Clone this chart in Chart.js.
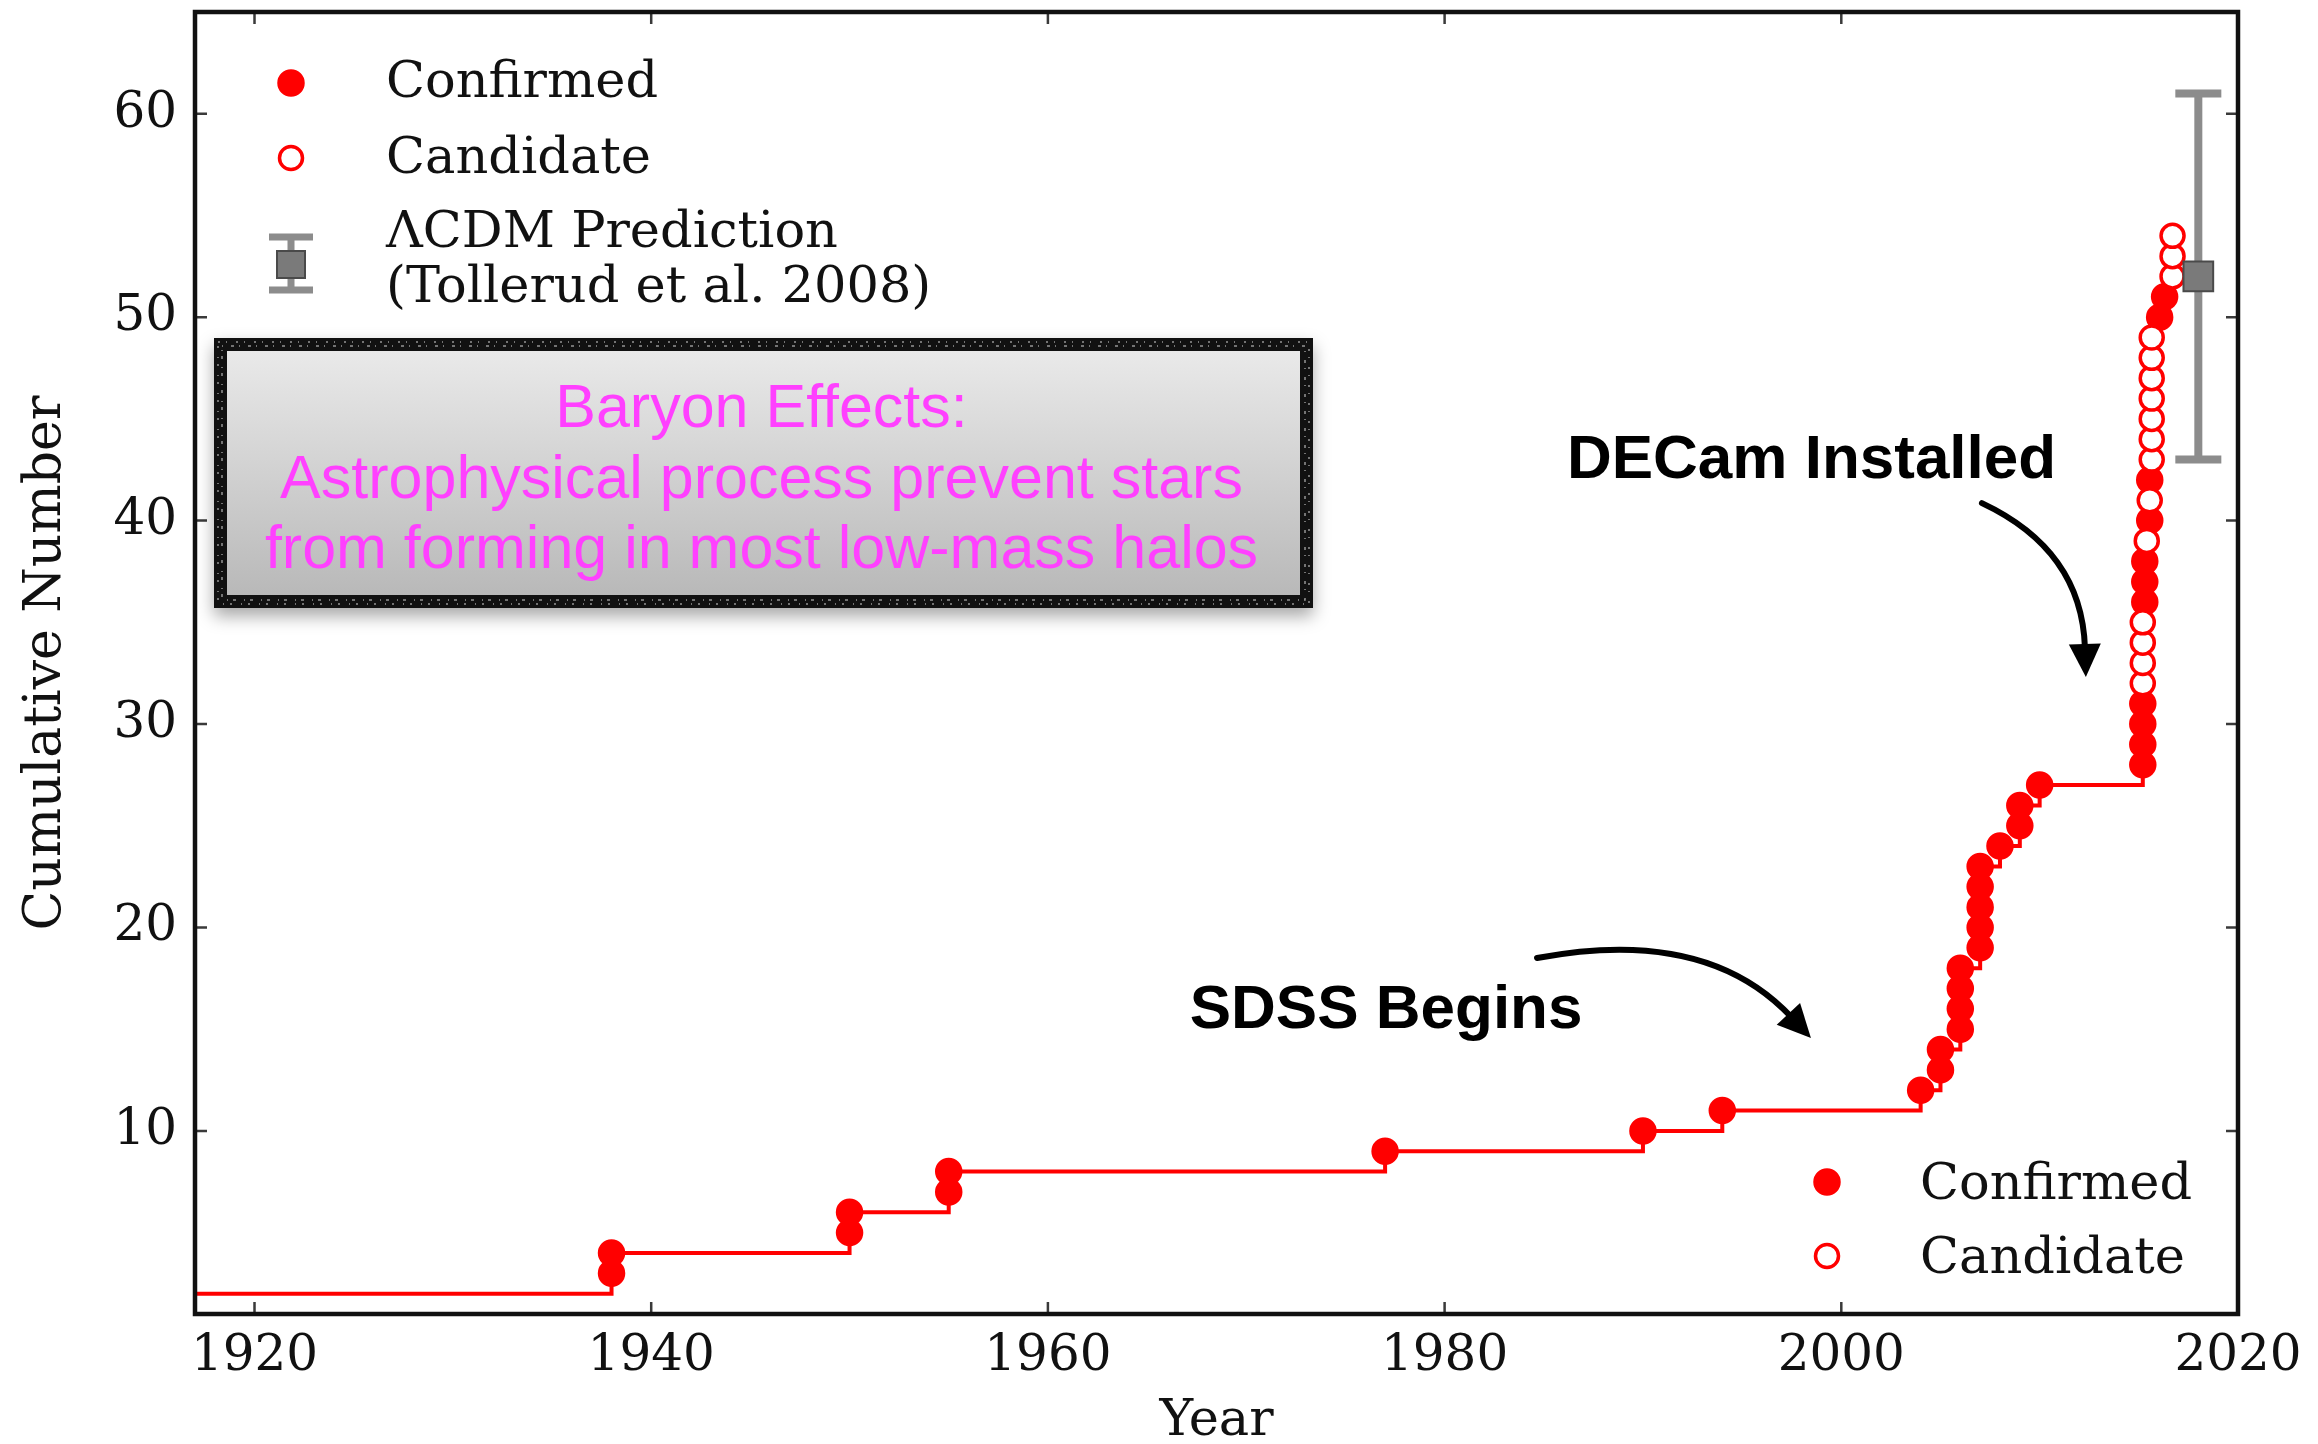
<!DOCTYPE html>
<html>
<head>
<meta charset="utf-8">
<script src="https://cdn.jsdelivr.net/npm/chart.js@4.4.1/dist/chart.umd.min.js"></script>
<style>
  html, body { margin: 0; padding: 0; background: #ffffff; }
  canvas { display: block; }
</style>
</head>
<body>
<canvas id="satellites" width="2318" height="1444"></canvas>
<script>
// Cumulative number of known Milky Way satellite galaxies versus discovery year.
const countBeforeFirstDiscovery = 2;

const discoveryYears = [
  1938, 1938, 1950, 1950, 1955, 1955, 1977, 1990, 1994,
  2004, 2005, 2005, 2006, 2006, 2006, 2006,
  2007, 2007, 2007, 2007, 2007, 2008, 2009, 2009, 2010,
  2015.2, 2015.2, 2015.2, 2015.2, 2015.2, 2015.2, 2015.2, 2015.2,
  2015.3, 2015.3, 2015.3, 2015.4, 2015.55, 2015.55, 2015.55,
  2015.65, 2015.65, 2015.65, 2015.65, 2015.65, 2015.65, 2015.65,
  2016.05, 2016.3, 2016.7, 2016.7, 2016.7
];

const cumulativeCounts = [
  3, 4, 5, 6, 7, 8, 9, 10, 11,
  12, 13, 14, 15, 16, 17, 18,
  19, 20, 21, 22, 23, 24, 25, 26, 27,
  28, 29, 30, 31, 32, 33, 34, 35,
  36, 37, 38, 39, 40, 41, 42,
  43, 44, 45, 46, 47, 48, 49,
  50, 51, 52, 53, 54
];

// true = confirmed satellite, false = candidate
const isConfirmed = [
  true, true, true, true, true, true, true, true, true,
  true, true, true, true, true, true, true,
  true, true, true, true, true, true, true, true, true,
  true, true, true, true, false, false, false, false,
  true, true, true, false, true, false, true,
  false, false, false, false, false, false, false,
  true, true, false, false, false
];

// ΛCDM prediction (Tollerud et al. 2008)
const predictionYear = [2018];
const predictionValue = [52];
const predictionLow = [43];
const predictionHigh = [61];

const xTickValues = [1920, 1940, 1960, 1980, 2000, 2020];
const yTickValues = [10, 20, 30, 40, 50, 60];
const xRange = [1917, 2020];
const yRange = [1, 65];

// Annotation anchors in data coordinates
const sdssLabel = { text: 'SDSS Begins', year: 1977.05, value: 15.06 };
const sdssArrow = [[1984.66, 18.5], [1993.18, 20.07], [1998.47, 14.57]];
const decamLabel = { text: 'DECam Installed', year: 1998.5, value: 42.1 };
const decamArrow = [[2007.09, 40.86], [2012.13, 38.55], [2012.33, 32.31]];
const baryonLines = [
  'Baryon Effects:',
  'Astrophysical process prevent stars',
  'from forming in most low-mass halos'
];

const RED = '#ff0000';
const SERIF = "'DejaVu Serif', serif";
const SANS = "'Liberation Sans', Arial, sans-serif";

const confirmedPoints = [];
const candidatePoints = [];
discoveryYears.forEach((yr, i) => {
  const p = { x: yr, y: cumulativeCounts[i] };
  (isConfirmed[i] ? confirmedPoints : candidatePoints).push(p);
});
const stepPoints = [{ x: xRange[0], y: countBeforeFirstDiscovery }]
  .concat(discoveryYears.map((yr, i) => ({ x: yr, y: cumulativeCounts[i] })));
const predictionPoints = predictionYear.map((yr, i) => ({ x: yr, y: predictionValue[i] }));

function drawDot(ctx, x, y, filled) {
  ctx.beginPath();
  ctx.arc(x, y, filled ? 12.5 : 11.5, 0, Math.PI * 2);
  ctx.fillStyle = filled ? RED : '#ffffff';
  ctx.fill();
  ctx.lineWidth = filled ? 2.5 : 3.5;
  ctx.strokeStyle = RED;
  ctx.stroke();
}

function drawArrow(ctx, xs, ys, pts) {
  const p0 = [xs.getPixelForValue(pts[0][0]), ys.getPixelForValue(pts[0][1])];
  const p1 = [xs.getPixelForValue(pts[1][0]), ys.getPixelForValue(pts[1][1])];
  const p2 = [xs.getPixelForValue(pts[2][0]), ys.getPixelForValue(pts[2][1])];
  let dx = p2[0] - p1[0], dy = p2[1] - p1[1];
  const len = Math.hypot(dx, dy); dx /= len; dy /= len;
  const headLen = 33, headHalf = 16;
  const base = [p2[0] - dx * headLen, p2[1] - dy * headLen];
  ctx.save();
  ctx.strokeStyle = '#000'; ctx.fillStyle = '#000';
  ctx.lineWidth = 6; ctx.lineCap = 'round';
  ctx.beginPath();
  ctx.moveTo(p0[0], p0[1]);
  ctx.quadraticCurveTo(p1[0], p1[1], base[0] + dx * 4, base[1] + dy * 4);
  ctx.stroke();
  ctx.beginPath();
  ctx.moveTo(p2[0], p2[1]);
  ctx.lineTo(base[0] - dy * headHalf, base[1] + dx * headHalf);
  ctx.lineTo(base[0] + dy * headHalf, base[1] - dx * headHalf);
  ctx.closePath();
  ctx.fill();
  ctx.restore();
}

const decorations = {
  id: 'decorations',
  beforeDatasetsDraw(chart) {
    // error bar of the prediction, under its square marker
    const { ctx, scales: { x, y } } = chart;
    ctx.save();
    ctx.strokeStyle = '#8c8c8c';
    ctx.lineWidth = 8;
    predictionYear.forEach((yr, i) => {
      const px = x.getPixelForValue(yr);
      const lo = y.getPixelForValue(predictionLow[i]);
      const hi = y.getPixelForValue(predictionHigh[i]);
      ctx.beginPath();
      ctx.moveTo(px, lo); ctx.lineTo(px, hi);
      ctx.moveTo(px - 23, lo); ctx.lineTo(px + 23, lo);
      ctx.moveTo(px - 23, hi); ctx.lineTo(px + 23, hi);
      ctx.stroke();
    });
    ctx.restore();
  },
  afterDatasetsDraw(chart) {
    const { ctx, chartArea: a, scales: { x, y } } = chart;
    ctx.save();
    // inward ticks on all four sides
    ctx.strokeStyle = '#3a3a3a';
    ctx.lineWidth = 2.5;
    ctx.beginPath();
    xTickValues.forEach(v => {
      const px = x.getPixelForValue(v);
      ctx.moveTo(px, a.bottom); ctx.lineTo(px, a.bottom - 12);
      ctx.moveTo(px, a.top); ctx.lineTo(px, a.top + 12);
    });
    yTickValues.forEach(v => {
      const py = y.getPixelForValue(v);
      ctx.moveTo(a.left, py); ctx.lineTo(a.left + 12, py);
      ctx.moveTo(a.right, py); ctx.lineTo(a.right - 12, py);
    });
    ctx.stroke();
    // frame
    ctx.strokeStyle = '#111';
    ctx.lineWidth = 4.5;
    ctx.strokeRect(a.left, a.top, a.right - a.left, a.bottom - a.top);
    ctx.restore();
  },
  afterDraw(chart) {
    const { ctx, chartArea: a, scales: { x, y } } = chart;
    ctx.save();

    // upper-left legend
    const mx = a.left + 96, tx = a.left + 191;
    ctx.font = '51px ' + SERIF;
    ctx.fillStyle = '#111';
    ctx.textAlign = 'left';
    ctx.textBaseline = 'alphabetic';
    drawDot(ctx, mx, a.top + 71, true);
    ctx.fillStyle = '#111';
    ctx.fillText('Confirmed', tx, a.top + 85);
    drawDot(ctx, mx, a.top + 146, false);
    ctx.fillStyle = '#111';
    ctx.fillText('Candidate', tx, a.top + 161);
    // error-bar icon
    const iy = a.top + 252;
    ctx.strokeStyle = '#8c8c8c'; ctx.lineWidth = 7;
    ctx.beginPath();
    ctx.moveTo(mx, iy - 27); ctx.lineTo(mx, iy + 26);
    ctx.moveTo(mx - 22, iy - 27); ctx.lineTo(mx + 22, iy - 27);
    ctx.moveTo(mx - 22, iy + 26); ctx.lineTo(mx + 22, iy + 26);
    ctx.stroke();
    ctx.fillStyle = '#7a7a7a'; ctx.strokeStyle = '#4a4a4a'; ctx.lineWidth = 2;
    ctx.fillRect(mx - 14, iy - 13, 28, 27);
    ctx.strokeRect(mx - 14, iy - 13, 28, 27);
    ctx.fillStyle = '#111';
    ctx.fillText('\u039BCDM Prediction', tx, a.top + 235);
    ctx.fillText('(Tollerud et al. 2008)', tx, a.top + 290);

    // lower-right legend
    const lx = a.left + 1632, ltx = a.left + 1725;
    drawDot(ctx, lx, a.top + 1170, true);
    ctx.fillStyle = '#111';
    ctx.fillText('Confirmed', ltx, a.top + 1187);
    drawDot(ctx, lx, a.top + 1244, false);
    ctx.fillStyle = '#111';
    ctx.fillText('Candidate', ltx, a.top + 1261);

    // baryon-effects box
    const bx = a.left + 19, by = a.top + 326, bw = 1099, bh = 270;
    ctx.save();
    ctx.shadowColor = 'rgba(0,0,0,0.35)';
    ctx.shadowBlur = 16;
    ctx.shadowOffsetY = 8;
    ctx.fillStyle = '#111';
    ctx.fillRect(bx, by, bw, bh);
    ctx.restore();
    const grad = ctx.createLinearGradient(0, by, 0, by + bh);
    grad.addColorStop(0, '#ececec');
    grad.addColorStop(1, '#b6b6b6');
    ctx.fillStyle = grad;
    ctx.fillRect(bx + 13, by + 13, bw - 26, bh - 26);
    ctx.strokeStyle = 'rgba(255,255,255,0.55)';
    ctx.lineWidth = 1.5;
    ctx.setLineDash([2, 6, 1, 9]);
    ctx.strokeRect(bx + 4, by + 4, bw - 8, bh - 8);
    ctx.setLineDash([1, 8, 3, 5]);
    ctx.strokeRect(bx + 8, by + 8, bw - 16, bh - 16);
    ctx.setLineDash([]);
    ctx.fillStyle = '#ff40ff';
    ctx.font = '61px ' + SANS;
    ctx.textAlign = 'center';
    const cx = bx + bw / 2 - 2;
    baryonLines.forEach((t, i) => ctx.fillText(t, cx, a.top + 415 + i * 70.5));

    // event labels and arrows
    ctx.fillStyle = '#000';
    ctx.font = 'bold 62px ' + SANS;
    ctx.fillText(sdssLabel.text, x.getPixelForValue(sdssLabel.year), y.getPixelForValue(sdssLabel.value));
    ctx.fillText(decamLabel.text, x.getPixelForValue(decamLabel.year), y.getPixelForValue(decamLabel.value));
    drawArrow(ctx, x, y, sdssArrow);
    drawArrow(ctx, x, y, decamArrow);

    ctx.restore();
  }
};

new Chart(document.getElementById('satellites'), {
  type: 'scatter',
  data: {
    datasets: [
      {
        label: '\u039BCDM Prediction',
        data: predictionPoints,
        pointStyle: 'rect',
        pointRadius: 21,
        backgroundColor: '#7a7a7a',
        borderColor: '#4a4a4a',
        borderWidth: 2
      },
      {
        label: 'Candidate',
        data: candidatePoints,
        pointStyle: 'circle',
        pointRadius: 11.5,
        backgroundColor: '#ffffff',
        borderColor: RED,
        borderWidth: 3.5
      },
      {
        label: 'Confirmed',
        data: confirmedPoints,
        pointStyle: 'circle',
        pointRadius: 12.5,
        backgroundColor: RED,
        borderColor: RED,
        borderWidth: 2.5
      },
      {
        type: 'line',
        label: 'Cumulative',
        data: stepPoints,
        stepped: 'before',
        borderColor: RED,
        borderWidth: 4,
        pointRadius: 0,
        fill: false,
        showLine: true
      }
    ]
  },
  options: {
    responsive: false,
    devicePixelRatio: 1,
    animation: false,
    events: [],
    layout: { autoPadding: false, padding: { left: 0, top: 12, right: 80, bottom: 0 } },
    plugins: { legend: { display: false }, tooltip: { enabled: false } },
    scales: {
      x: {
        type: 'linear',
        min: xRange[0],
        max: xRange[1],
        grid: { display: false, drawTicks: false },
        border: { display: false },
        afterBuildTicks: s => { s.ticks = xTickValues.map(v => ({ value: v })); },
        afterFit: s => { s.height = 130; s.paddingLeft = 0; s.paddingRight = 0; },
        ticks: {
          padding: 13,
          color: '#111',
          font: { family: SERIF, size: 50 },
          maxRotation: 0,
          autoSkip: false,
          callback: v => String(v)
        },
        title: {
          display: true,
          text: 'Year',
          color: '#111',
          font: { family: SERIF, size: 51, lineHeight: 0.8 },
          padding: { top: 0, bottom: 2 }
        }
      },
      y: {
        type: 'linear',
        min: yRange[0],
        max: yRange[1],
        grid: { display: false, drawTicks: false },
        border: { display: false },
        afterBuildTicks: s => { s.ticks = yTickValues.map(v => ({ value: v })); },
        afterFit: s => { s.width = 195; s.paddingTop = 0; s.paddingBottom = 0; },
        ticks: {
          padding: 18,
          color: '#111',
          font: { family: SERIF, size: 50 },
          callback: v => String(v)
        },
        title: {
          display: true,
          text: 'Cumulative Number',
          color: '#111',
          font: { family: SERIF, size: 52, lineHeight: 1 },
          padding: { top: 20, bottom: 0 }
        }
      }
    }
  },
  plugins: [decorations]
});
</script>
</body>
</html>
